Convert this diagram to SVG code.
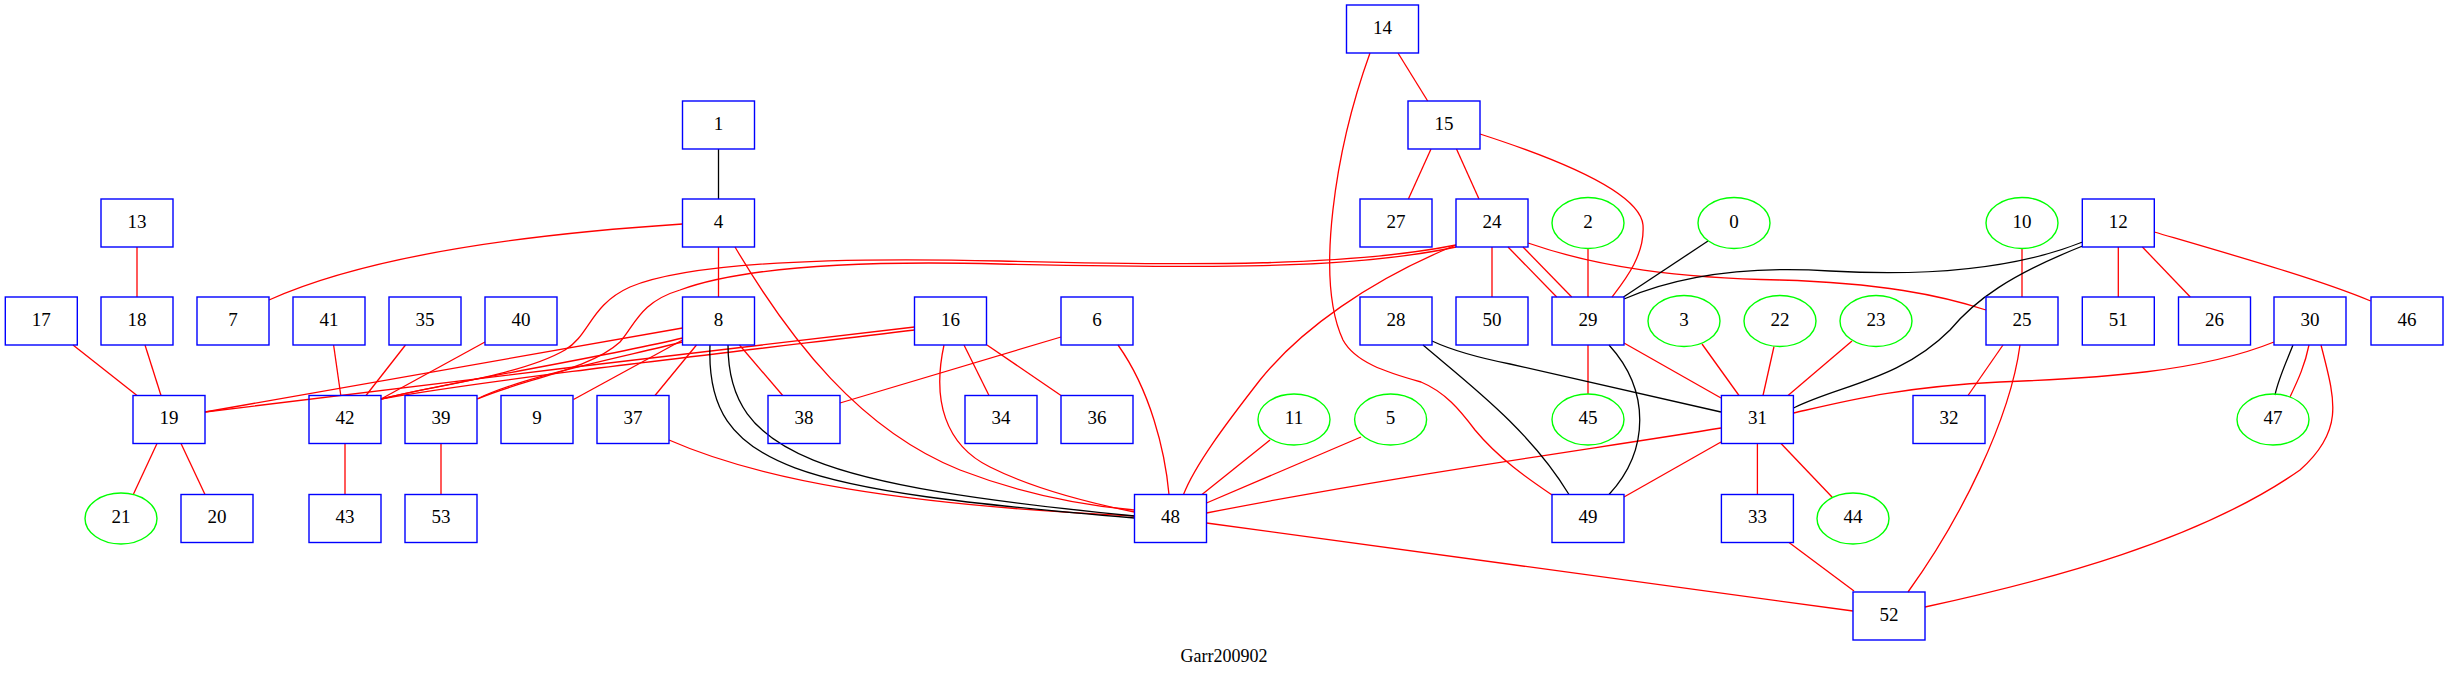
<svg xmlns="http://www.w3.org/2000/svg" width="2448" height="681" viewBox="0 0 2448 681">
<style>
.b rect{fill:none;stroke:#0000ff;stroke-width:1.4}
.c ellipse{fill:none;stroke:#00ff00;stroke-width:1.4}
text{font-family:"Liberation Serif",serif;font-size:19px;text-anchor:middle;fill:#000}
#edges path{fill:none;stroke-width:1.3}
#edges .r{stroke:#ff0000}
#edges .k{stroke:#000000}
</style>
<rect width="2448" height="681" fill="#ffffff"/>
<g id="edges">
<path class="r" d="M137,247 L137,297"/>
<path class="r" d="M73,345 L137,395.5"/>
<path class="r" d="M145,345 L161,395.5"/>
<path class="r" d="M157,443.5 L133.5,494"/>
<path class="r" d="M181,443.5 L205,494.5"/>
<path class="r" d="M682.5,224 C560,232 380,250 269,300"/>
<path class="r" d="M718.5,247 L718.5,297"/>
<path class="r" d="M735,247 C790,340 860,430 960,470 C1030,497 1090,506 1134.5,510"/>
<path class="r" d="M333.6,345 L340.8,395.5"/>
<path class="r" d="M405.5,345 L366,395.5"/>
<path class="r" d="M485,342 L381,399"/>
<path class="r" d="M345,443.5 L345,494.5"/>
<path class="r" d="M441,443.5 L441,494.5"/>
<path class="r" d="M682.5,328 L205,412"/>
<path class="r" d="M682.5,338 C600,358 470,378 381,399"/>
<path class="r" d="M682.5,342 C600,362 520,378 477,399"/>
<path class="r" d="M682.5,340 L573.5,399.5"/>
<path class="r" d="M696.5,345 L655,395.5"/>
<path class="r" d="M739.5,345 L782.7,395.5"/>
<path class="r" d="M914.5,327 C700,352 420,385 205,412"/>
<path class="r" d="M914.5,330 C750,350 500,378 381,399"/>
<path class="r" d="M964,345 L989,395.5"/>
<path class="r" d="M987,345 L1061,395.5"/>
<path class="r" d="M944,345 C932,400 945,445 990,467 C1040,492 1100,505 1134.5,512"/>
<path class="r" d="M1061,337 L840,403"/>
<path class="r" d="M1118,345 C1150,390 1165,450 1169,494.5"/>
<path class="r" d="M669,440 C760,480 900,505 1134.5,516"/>
<path class="r" d="M1270,440 L1202,494.5"/>
<path class="r" d="M1361,437 L1206.5,503"/>
<path class="r" d="M1456,245 C1370,280 1300,330 1260,380 C1225,425 1195,465 1183.5,494.5"/>
<path class="r" d="M1456,245 C1350,266 1200,266 1000,261 C830,257 690,262 630,287 C590,305 590,335 565,350 C520,376 430,386 381,399"/>
<path class="r" d="M1456,247 C1350,270 1200,268 1000,264 C850,260 740,268 680,290 C640,302 635,325 620,342 C590,370 520,380 477.5,399"/>
<path class="r" d="M1492,247 L1492,297"/>
<path class="r" d="M1508,247 L1556.7,297"/>
<path class="r" d="M1523,247 L1571.7,297"/>
<path class="r" d="M1528,243 C1600,268 1680,278 1780,280 C1880,283 1940,295 1986,310"/>
<path class="r" d="M1398,53 L1427.7,101"/>
<path class="r" d="M1431,149 L1408.4,199"/>
<path class="r" d="M1456.5,149 L1479,199"/>
<path class="r" d="M1480,134 C1570,163 1640,195 1643,225 C1645,255 1625,280 1612,297"/>
<path class="r" d="M1370,53 C1335,150 1315,280 1343,340 C1355,362 1385,372 1421,382 C1445,392 1460,410 1475,430 C1500,460 1530,480 1552,495"/>
<path class="r" d="M1588,248.5 L1588,297"/>
<path class="r" d="M1588,345 L1588,394"/>
<path class="r" d="M1624,343 L1721,398"/>
<path class="r" d="M1702,344 L1739,395.5"/>
<path class="r" d="M1774,346.5 L1763,395.5"/>
<path class="r" d="M1852,341 L1788,395.5"/>
<path class="r" d="M2274,342 C2200,372 2100,378 2000,382 C1900,387 1850,400 1793.6,413"/>
<path class="r" d="M1206.5,513 C1400,475 1600,448 1721,428"/>
<path class="r" d="M1721,442 L1624,497"/>
<path class="r" d="M1757.4,443.5 L1757.4,494.5"/>
<path class="r" d="M1781,443.5 L1832,497"/>
<path class="r" d="M2022,248.5 L2022,297"/>
<path class="r" d="M2003,345 L1968,395.5"/>
<path class="r" d="M2020,345 C2010,420 1960,520 1908,592"/>
<path class="r" d="M2118.3,247 L2118.3,297"/>
<path class="r" d="M2142.4,247 L2190.3,297"/>
<path class="r" d="M2154.3,232 C2250,260 2320,280 2370.7,301"/>
<path class="r" d="M2309,345 C2305,365 2298,380 2290,397"/>
<path class="r" d="M2321,345 C2335,400 2345,430 2300,470 C2200,540 2050,580 1925,607"/>
<path class="r" d="M1789,542.5 L1854,591"/>
<path class="r" d="M1206.5,523 L1853,611"/>
<path class="k" d="M718.5,149 L718.5,199"/>
<path class="k" d="M1708,241 L1623.5,297"/>
<path class="k" d="M2082.6,242 C2000,275 1900,275 1830,271 C1750,266 1680,275 1624,299"/>
<path class="k" d="M2082.6,246 C2010,275 1975,300 1950,330 C1900,380 1840,385 1793.6,408"/>
<path class="k" d="M1432,341 Q1460,354 1510,364 L1721,412"/>
<path class="k" d="M1423,345 C1470,385 1530,430 1569,494.5"/>
<path class="k" d="M1609,345 C1650,390 1650,450 1609,494.5"/>
<path class="k" d="M710,345 C705,470 800,490 1134.5,518"/>
<path class="k" d="M728,345 C728,455 820,485 1134.5,516"/>
<path class="k" d="M2293,345 C2285,365 2278,380 2275,395"/>
</g>
<g id="n14" class="b"><rect x="1346.5" y="5" width="72" height="48"/><text x="1382.5" y="33.5">14</text></g>
<g id="n1" class="b"><rect x="682.5" y="101" width="72" height="48"/><text x="718.5" y="129.5">1</text></g>
<g id="n15" class="b"><rect x="1408" y="101" width="72" height="48"/><text x="1444" y="129.5">15</text></g>
<g id="n13" class="b"><rect x="101" y="199" width="72" height="48"/><text x="137" y="227.5">13</text></g>
<g id="n4" class="b"><rect x="682.5" y="199" width="72" height="48"/><text x="718.5" y="227.5">4</text></g>
<g id="n27" class="b"><rect x="1360" y="199" width="72" height="48"/><text x="1396" y="227.5">27</text></g>
<g id="n24" class="b"><rect x="1456" y="199" width="72" height="48"/><text x="1492" y="227.5">24</text></g>
<g id="n2" class="c"><ellipse cx="1588" cy="223" rx="36" ry="25.5"/><text x="1588" y="227.5">2</text></g>
<g id="n0" class="c"><ellipse cx="1734" cy="223" rx="36" ry="25.5"/><text x="1734" y="227.5">0</text></g>
<g id="n10" class="c"><ellipse cx="2022" cy="223" rx="36" ry="25.5"/><text x="2022" y="227.5">10</text></g>
<g id="n12" class="b"><rect x="2082.3" y="199" width="72" height="48"/><text x="2118.3" y="227.5">12</text></g>
<g id="n17" class="b"><rect x="5.3" y="297" width="72" height="48"/><text x="41.3" y="325.5">17</text></g>
<g id="n18" class="b"><rect x="101" y="297" width="72" height="48"/><text x="137" y="325.5">18</text></g>
<g id="n7" class="b"><rect x="197" y="297" width="72" height="48"/><text x="233" y="325.5">7</text></g>
<g id="n41" class="b"><rect x="293" y="297" width="72" height="48"/><text x="329" y="325.5">41</text></g>
<g id="n35" class="b"><rect x="389" y="297" width="72" height="48"/><text x="425" y="325.5">35</text></g>
<g id="n40" class="b"><rect x="485" y="297" width="72" height="48"/><text x="521" y="325.5">40</text></g>
<g id="n8" class="b"><rect x="682.5" y="297" width="72" height="48"/><text x="718.5" y="325.5">8</text></g>
<g id="n16" class="b"><rect x="914.5" y="297" width="72" height="48"/><text x="950.5" y="325.5">16</text></g>
<g id="n6" class="b"><rect x="1061" y="297" width="72" height="48"/><text x="1097" y="325.5">6</text></g>
<g id="n28" class="b"><rect x="1360" y="297" width="72" height="48"/><text x="1396" y="325.5">28</text></g>
<g id="n50" class="b"><rect x="1456" y="297" width="72" height="48"/><text x="1492" y="325.5">50</text></g>
<g id="n29" class="b"><rect x="1552" y="297" width="72" height="48"/><text x="1588" y="325.5">29</text></g>
<g id="n3" class="c"><ellipse cx="1684" cy="321" rx="36" ry="25.5"/><text x="1684" y="325.5">3</text></g>
<g id="n22" class="c"><ellipse cx="1780" cy="321" rx="36" ry="25.5"/><text x="1780" y="325.5">22</text></g>
<g id="n23" class="c"><ellipse cx="1876" cy="321" rx="36" ry="25.5"/><text x="1876" y="325.5">23</text></g>
<g id="n25" class="b"><rect x="1986" y="297" width="72" height="48"/><text x="2022" y="325.5">25</text></g>
<g id="n51" class="b"><rect x="2082.3" y="297" width="72" height="48"/><text x="2118.3" y="325.5">51</text></g>
<g id="n26" class="b"><rect x="2178.5" y="297" width="72" height="48"/><text x="2214.5" y="325.5">26</text></g>
<g id="n30" class="b"><rect x="2274" y="297" width="72" height="48"/><text x="2310" y="325.5">30</text></g>
<g id="n46" class="b"><rect x="2371" y="297" width="72" height="48"/><text x="2407" y="325.5">46</text></g>
<g id="n19" class="b"><rect x="133" y="395.5" width="72" height="48"/><text x="169" y="424">19</text></g>
<g id="n42" class="b"><rect x="309" y="395.5" width="72" height="48"/><text x="345" y="424">42</text></g>
<g id="n39" class="b"><rect x="405" y="395.5" width="72" height="48"/><text x="441" y="424">39</text></g>
<g id="n9" class="b"><rect x="501" y="395.5" width="72" height="48"/><text x="537" y="424">9</text></g>
<g id="n37" class="b"><rect x="597" y="395.5" width="72" height="48"/><text x="633" y="424">37</text></g>
<g id="n38" class="b"><rect x="768" y="395.5" width="72" height="48"/><text x="804" y="424">38</text></g>
<g id="n34" class="b"><rect x="965" y="395.5" width="72" height="48"/><text x="1001" y="424">34</text></g>
<g id="n36" class="b"><rect x="1061" y="395.5" width="72" height="48"/><text x="1097" y="424">36</text></g>
<g id="n11" class="c"><ellipse cx="1294" cy="419.5" rx="36" ry="25.5"/><text x="1294" y="424">11</text></g>
<g id="n5" class="c"><ellipse cx="1390.6" cy="419.5" rx="36" ry="25.5"/><text x="1390.6" y="424">5</text></g>
<g id="n45" class="c"><ellipse cx="1588" cy="419.5" rx="36" ry="25.5"/><text x="1588" y="424">45</text></g>
<g id="n31" class="b"><rect x="1721.4" y="395.5" width="72" height="48"/><text x="1757.4" y="424">31</text></g>
<g id="n32" class="b"><rect x="1913" y="395.5" width="72" height="48"/><text x="1949" y="424">32</text></g>
<g id="n47" class="c"><ellipse cx="2273" cy="419.5" rx="36" ry="25.5"/><text x="2273" y="424">47</text></g>
<g id="n21" class="c"><ellipse cx="121" cy="518.5" rx="36" ry="25.5"/><text x="121" y="523">21</text></g>
<g id="n20" class="b"><rect x="181" y="494.5" width="72" height="48"/><text x="217" y="523">20</text></g>
<g id="n43" class="b"><rect x="309" y="494.5" width="72" height="48"/><text x="345" y="523">43</text></g>
<g id="n53" class="b"><rect x="405" y="494.5" width="72" height="48"/><text x="441" y="523">53</text></g>
<g id="n48" class="b"><rect x="1134.5" y="494.5" width="72" height="48"/><text x="1170.5" y="523">48</text></g>
<g id="n49" class="b"><rect x="1552" y="494.5" width="72" height="48"/><text x="1588" y="523">49</text></g>
<g id="n33" class="b"><rect x="1721.4" y="494.5" width="72" height="48"/><text x="1757.4" y="523">33</text></g>
<g id="n44" class="c"><ellipse cx="1853" cy="518.5" rx="36" ry="25.5"/><text x="1853" y="523">44</text></g>
<g id="n52" class="b"><rect x="1853" y="592" width="72" height="48"/><text x="1889" y="620.5">52</text></g>
<text id="title" x="1224" y="662" style="font-size:18px">Garr200902</text>
</svg>
